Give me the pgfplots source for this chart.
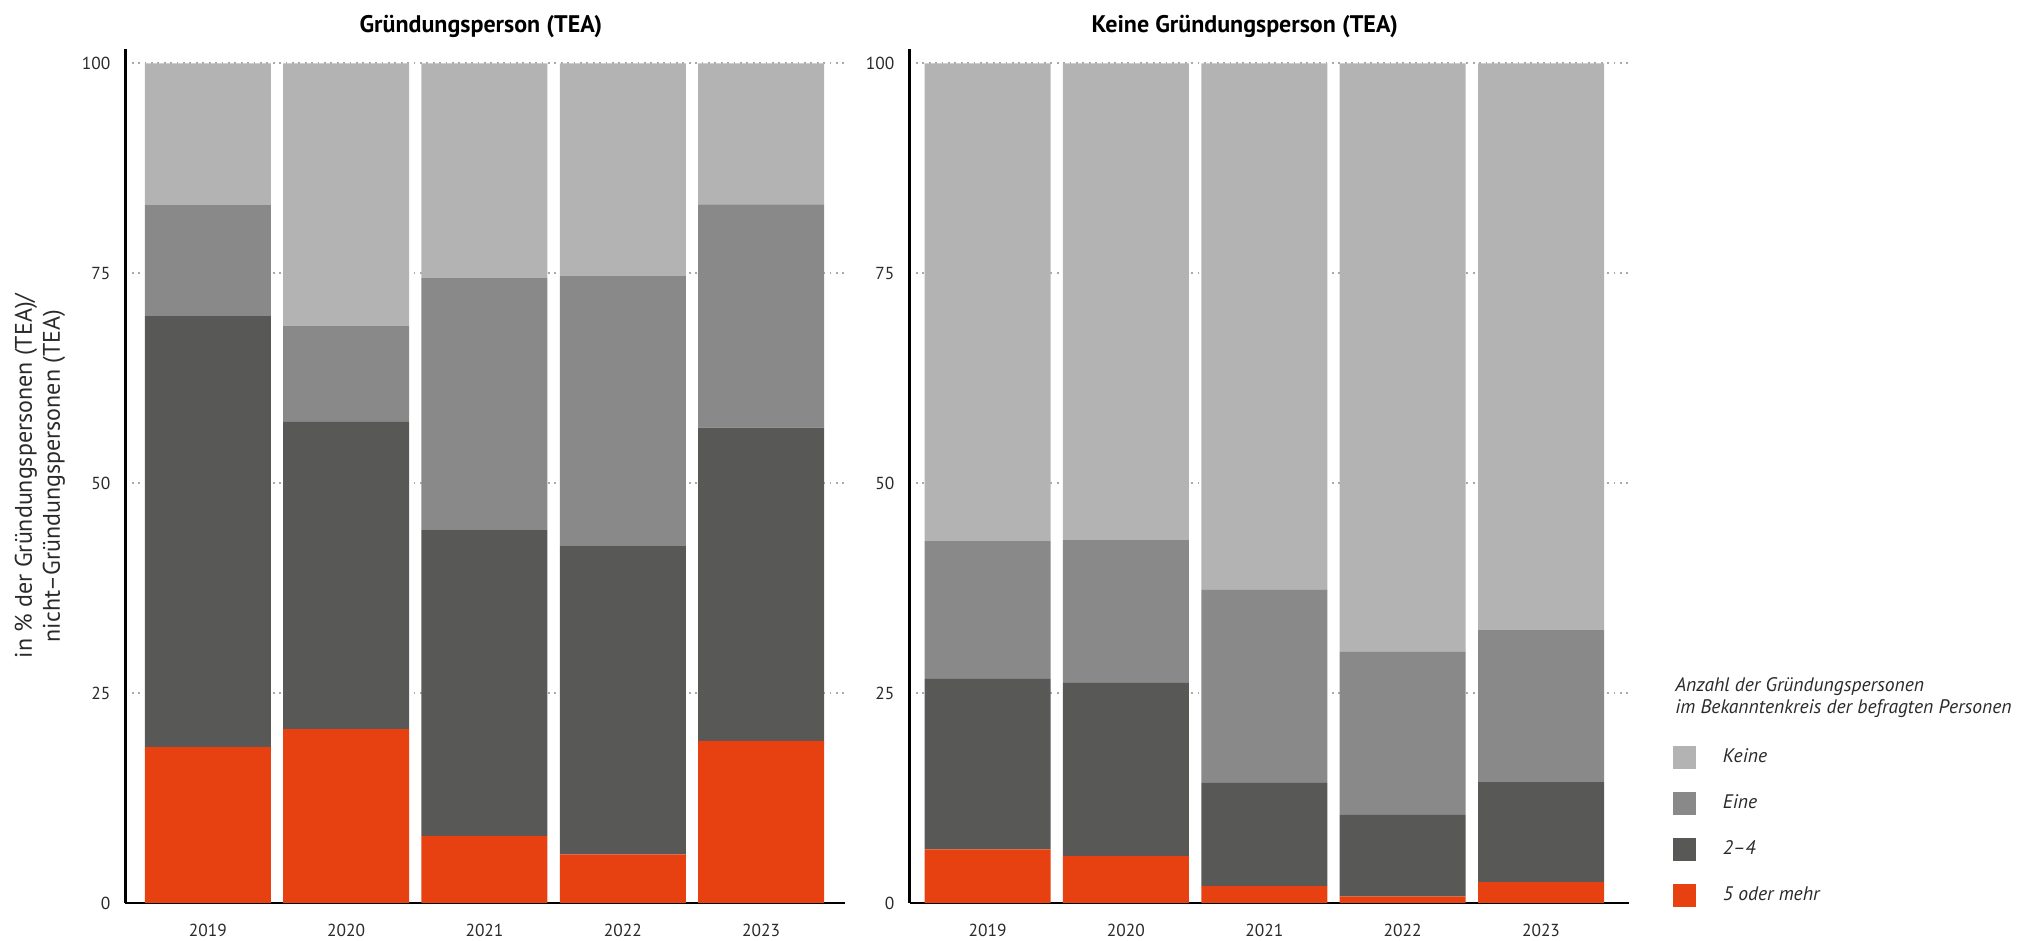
\documentclass[border=0pt]{standalone}
\usepackage{pgfplots}
\usepackage{pgfplotstable}
\pgfplotsset{compat=1.18}
\usepackage{fontspec}
\setmainfont{PT Sans}

\definecolor{cKeine}{HTML}{B3B3B3}
\definecolor{cEine}{HTML}{898989}
\definecolor{cZwei}{HTML}{585856}
\definecolor{cFuenf}{HTML}{E74011}
\definecolor{cGrid}{HTML}{A8A8A8}
\definecolor{cText}{HTML}{2A2A2A}

\pgfplotstableread{
x year f5   z24  eine keine
0 2019 18.6 51.3 13.2 16.9
1 2020 20.7 36.6 11.4 31.3
2 2021 8.0  36.4 30.0 25.6
3 2022 5.8  36.7 32.2 25.3
4 2023 19.3 37.3 26.6 16.8
}\tabGP

\pgfplotstableread{
x year f5  z24  eine keine
0 2019 6.4 20.3 16.4 56.9
1 2020 5.6 20.6 17.0 56.8
2 2021 2.0 12.3 23.0 62.7
3 2022 0.8 9.7  19.4 70.1
4 2023 2.5 11.9 18.1 67.5
}\tabKGP

\pgfplotsset{
 mystyle/.style={
  scale only axis, width=359.75pt, height=427pt,
  ybar stacked, bar width=63pt,
  ymin=0, ymax=101.7,
  xtick={0,1,2,3,4}, xticklabels={2019,2020,2021,2022,2023},
  ytick={0,25,50,75,100},
  ymajorgrids,
  grid style={cGrid, line width=0.9pt, dash pattern=on 0.9pt off 2.3pt},
  major tick length=0pt,
  axis x line*=bottom, axis y line*=left,
  x axis line style={line width=1.4pt, black},
  y axis line style={line width=1.2pt, black},
  tick label style={font=\fontsize{8.7}{10}\selectfont, text=cText},
  xticklabel style={yshift=-7pt},
  yticklabel style={xshift=-4pt},
  /pgf/number format/assume math mode=true,
  title style={font=\bfseries\fontsize{12}{14}\selectfont, anchor=center, yshift=5.3pt},
  clip=false,
 }
}

\begin{document}
\begin{tikzpicture}
\path[use as bounding box] (0,0) rectangle (1019pt,470.5pt);

\begin{axis}[mystyle,
  at={(62.75pt,19pt)}, anchor=south west,
  xmin=-0.596, xmax=4.607,
  title={Gründungsperson (TEA)},
  title style={at={(0.494,1)}},
  ylabel={in \% der Gründungspersonen (TEA)/\\nicht–Gründungspersonen (TEA)},
  ylabel style={at={(axis description cs:-0.1188,0.5)}, anchor=center, rotate=0,
    align=center, font=\fontsize{12}{14}\selectfont, text=cText},
]
\addplot[fill=cFuenf, draw=none] table[x=x, y=f5] {\tabGP};
\addplot[fill=cZwei, draw=none] table[x=x, y=z24] {\tabGP};
\addplot[fill=cEine, draw=none] table[x=x, y=eine] {\tabGP};
\addplot[fill=cKeine, draw=none] table[x=x, y=keine] {\tabGP};
\end{axis}

\begin{axis}[mystyle,
  at={(454.75pt,19pt)}, anchor=south west,
  xmin=-0.564, xmax=4.636,
  title={Keine Gründungsperson (TEA)},
  title style={at={(0.466,1)}},
  legend style={draw=none, fill=none, inner sep=0pt, outer sep=0pt,
    at={(axis description cs:1.061,0.1844)}, anchor=north west,
    row sep=11.5pt, column sep=13.5pt,
    font=\itshape\fontsize{9.8}{11}\selectfont, text=cText,
    nodes={inner sep=0pt}},
  legend cell align=left,
  legend image code/.code={\fill[#1] (0pt,-5.75pt) rectangle (11.5pt,5.75pt);},
]
\addlegendimage{fill=cKeine, draw=none}
\addlegendentry{Keine}
\addlegendimage{fill=cEine, draw=none}
\addlegendentry{Eine}
\addlegendimage{fill=cZwei, draw=none}
\addlegendentry{2–4}
\addlegendimage{fill=cFuenf, draw=none}
\addlegendentry{5 oder mehr}
\addplot[fill=cFuenf, draw=none, forget plot] table[x=x, y=f5] {\tabKGP};
\addplot[fill=cZwei, draw=none, forget plot] table[x=x, y=z24] {\tabKGP};
\addplot[fill=cEine, draw=none, forget plot] table[x=x, y=eine] {\tabKGP};
\addplot[fill=cKeine, draw=none, forget plot] table[x=x, y=keine] {\tabKGP};
\node[anchor=north west, align=left, inner sep=0pt, text=cText,
  font=\itshape\fontsize{9.8}{11}\selectfont]
  at (axis description cs:1.0638,0.2646)
  {Anzahl der Gründungspersonen\\im Bekanntenkreis der befragten Personen};
\end{axis}
\end{tikzpicture}
\end{document}
